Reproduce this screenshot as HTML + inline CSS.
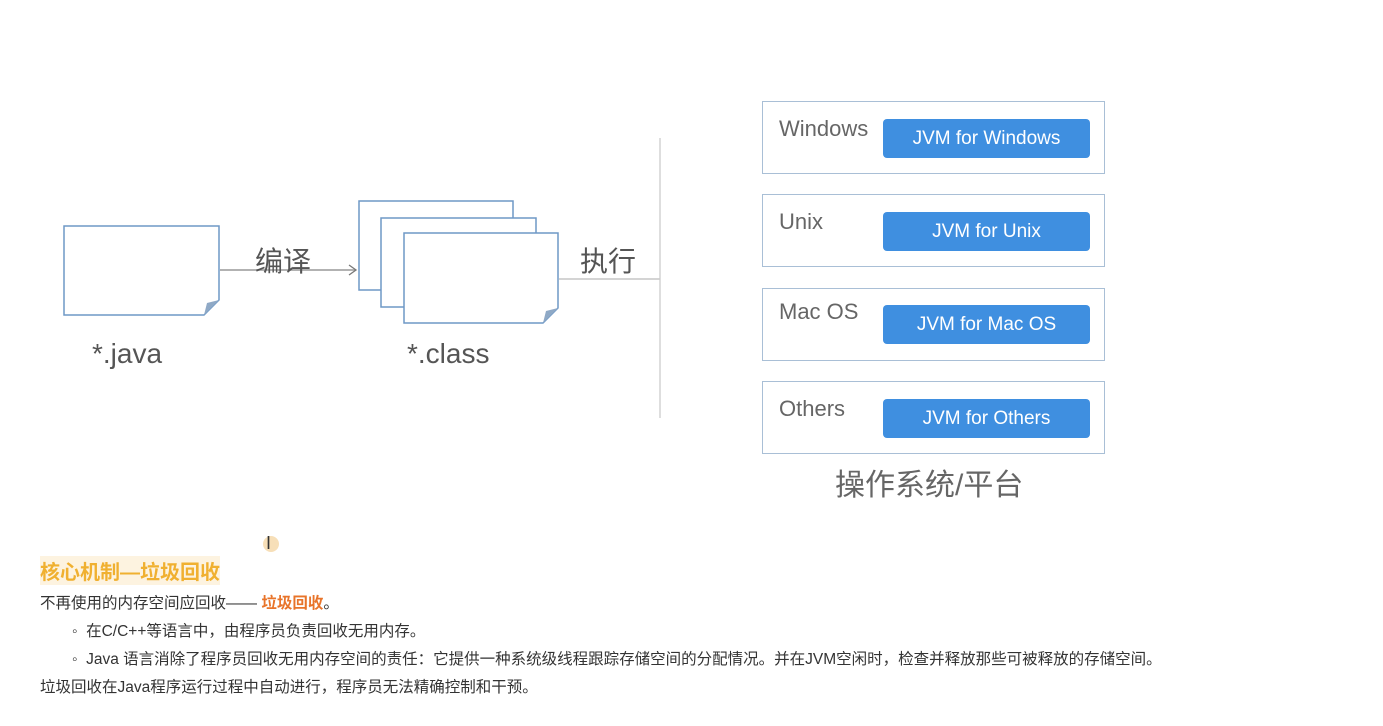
<!DOCTYPE html>
<html><head><meta charset="utf-8"><style>
body{margin:0;width:1383px;height:726px;background:#fff;position:relative;overflow:hidden;font-family:"Liberation Sans","Noto Sans CJK SC",sans-serif;}
.t{position:absolute;white-space:nowrap;}
.ob{position:absolute;left:762px;width:343px;height:73px;border:1.5px solid #a9bfd6;box-sizing:border-box;}
.os{position:absolute;left:779px;font-size:22px;color:#666;}
.btn{position:absolute;left:883px;width:207px;height:39px;background:#3f8fe0;border-radius:4px;color:#fff;font-size:19px;text-align:center;line-height:39px;}
.s{font-size:15.5px;color:#333;}
</style></head><body>
<svg width="1383" height="726" style="position:absolute;left:0;top:0">
<g fill="#fff" stroke="#6f98c6" stroke-width="1.5">
<path d="M64 226H219V300L204 315H64Z"/>
<path d="M359 201H513V290H359Z"/>
<path d="M381 218H536V307H381Z"/>
<path d="M404 233H558V308L543 323H404Z"/>
</g>
<path d="M204 315L207 303L219 300Z" fill="#8fa9c6"/>
<path d="M543 323L546 311L558 308Z" fill="#8fa9c6"/>
<line x1="220" y1="270" x2="355" y2="270" stroke="#999" stroke-width="1.5"/>
<path d="M349 265L356 270L349 275" fill="none" stroke="#777" stroke-width="1.3"/>
<line x1="559" y1="279" x2="660" y2="279" stroke="#bbb" stroke-width="1.3"/>
<line x1="660" y1="138" x2="660" y2="418" stroke="#ccc" stroke-width="1.3"/>
</svg>
<div class="t" style="left:255px;top:240px;font-size:28px;color:#555">编译</div>
<div class="t" style="left:580px;top:240px;font-size:28px;color:#555">执行</div>
<div class="t" style="left:92px;top:338px;font-size:28px;color:#555">*.java</div>
<div class="t" style="left:407px;top:338px;font-size:28px;color:#555">*.class</div>
<div class="ob" style="top:101px"></div><div class="ob" style="top:194px"></div><div class="ob" style="top:288px"></div><div class="ob" style="top:381px"></div>
<div class="t os" style="top:116px">Windows</div>
<div class="t os" style="top:209px">Unix</div>
<div class="t os" style="top:299px">Mac OS</div>
<div class="t os" style="top:396px">Others</div>
<div class="btn" style="top:119px">JVM for Windows</div>
<div class="btn" style="top:212px">JVM for Unix</div>
<div class="btn" style="top:305px">JVM for Mac OS</div>
<div class="btn" style="top:399px">JVM for Others</div>
<div class="t" style="left:835px;top:460px;font-size:30px;color:#666">操作系统/平台</div>
<div class="t" style="left:263px;top:536px;width:16px;height:16px;border-radius:8px;background:#f7dfb8"></div>
<div class="t" style="left:266px;top:533px;font-size:18px;color:#333">I</div>
<div class="t" style="left:40px;top:556px;font-size:20px;font-weight:bold;color:#f0b030;background:#fdf3e0">核心机制—垃圾回收</div>
<div class="t s" style="left:40px;top:591px">不再使用的内存空间应回收—— <b style="color:#e8742a">垃圾回收</b>。</div>
<div class="t s" style="left:72px;top:619px">◦&nbsp; 在C/C++等语言中，由程序员负责回收无用内存。</div>
<div class="t s" style="left:72px;top:647px">◦&nbsp; Java 语言消除了程序员回收无用内存空间的责任：它提供一种系统级线程跟踪存储空间的分配情况。并在JVM空闲时，检查并释放那些可被释放的存储空间。</div>
<div class="t s" style="left:40px;top:675px">垃圾回收在Java程序运行过程中自动进行，程序员无法精确控制和干预。</div>
</body></html>
